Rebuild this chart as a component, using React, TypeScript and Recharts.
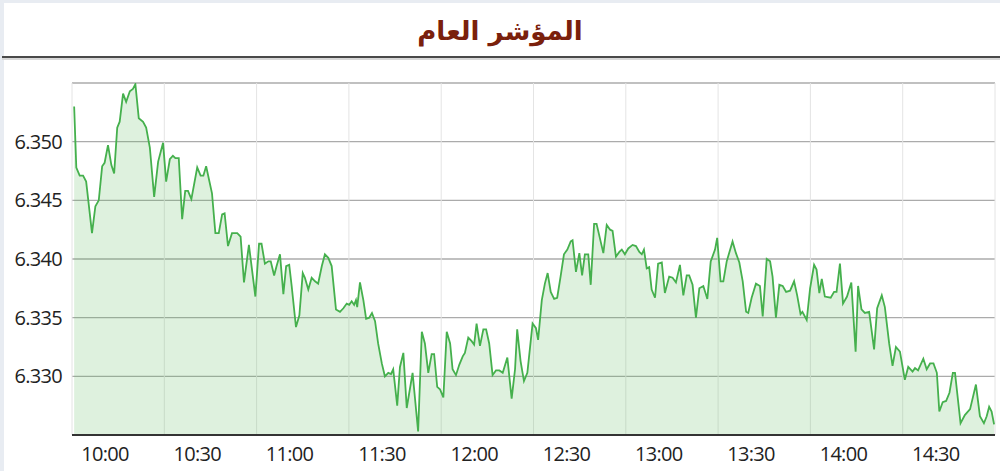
import React from 'react';
import { AreaChart, Area, XAxis, YAxis, CartesianGrid } from 'recharts';

// minutes after 10:00 (one reading per vertex of the intraday line)
const minutes = [
  0.7, 1.4, 2.5, 3.6, 4.6, 6.5, 7.6, 8.7, 9.8, 10.6, 11.7, 12.8, 13.7, 14.7, 15.5, 16.6, 17.6, 18.8, 19.8, 20.6,
  21.7, 23.1, 24.1, 25.3, 26.7, 28.0, 29.6, 30.6, 31.8, 32.8, 33.6, 34.7, 35.8, 36.8, 37.7, 38.8, 40.7, 41.8, 42.7, 43.6,
  45.5, 46.6, 47.7, 48.8, 49.6, 50.7, 52.0, 53.7, 54.8, 55.9, 57.5, 59.6, 60.8, 61.6, 62.7, 63.8, 64.6, 65.7, 66.5, 67.6,
  68.7, 69.6, 70.6, 71.4, 72.8, 73.9, 75.0, 75.7, 76.8, 77.9, 79.0, 80.0, 81.2, 82.2, 83.3, 84.4, 85.8, 87.1, 88.2, 89.3,
  90.1, 90.9, 91.7, 92.3, 92.7, 93.6, 94.7, 95.6, 96.6, 97.5, 98.5, 99.5, 100.7, 101.7, 102.8, 103.7, 104.4, 105.7, 106.6, 107.7,
  108.8, 110.7, 112.5, 113.7, 114.7, 115.8, 116.9, 117.7, 118.7, 119.6, 120.7, 121.8, 122.9, 123.7, 124.8, 125.9, 127.0, 127.7, 128.8, 129.9,
  130.7, 131.5, 132.6, 133.7, 134.6, 135.6, 136.7, 137.8, 138.9, 140.0, 141.5, 142.9, 144.0, 144.7, 145.8, 146.9, 148.0, 149.7, 150.8, 151.5,
  152.7, 153.7, 154.6, 155.6, 156.7, 157.7, 158.8, 159.9, 161.0, 162.1, 162.7, 163.8, 164.9, 165.8, 166.7, 167.8, 168.6, 169.7, 170.5, 172.7,
  173.8, 174.9, 175.7, 176.8, 177.9, 178.7, 179.7, 180.8, 182.2, 183.3, 184.4, 185.2, 185.9, 186.8, 187.6, 188.4, 189.5, 190.5, 191.7, 192.7,
  194.1, 195.2, 196.3, 197.6, 198.7, 199.8, 200.6, 201.7, 202.8, 203.9, 205.2, 206.5, 207.6, 209.0, 209.7, 210.8, 211.7, 212.8, 214.7, 215.8,
  216.9, 218.0, 219.1, 219.8, 220.9, 222.3, 223.6, 224.5, 225.8, 226.9, 227.7, 228.8, 229.9, 231.0, 232.1, 233.4, 234.7, 235.7, 236.8, 237.4,
  238.8, 239.9, 241.2, 242.0, 242.9, 243.7, 244.7, 246.6, 247.7, 248.5, 249.6, 250.6, 251.9, 253.3, 254.7, 255.5, 256.6, 257.7, 259.1, 260.7,
  261.7, 263.2, 264.2, 265.6, 266.7, 267.8, 269.1, 270.7, 271.8, 273.2, 274.0, 275.0, 276.7, 277.8, 278.9, 280.0, 281.1, 281.9, 283.0, 284.1,
  285.2, 286.3, 287.0, 288.8, 290.2, 291.9, 293.8, 295.1, 296.4, 297.3, 298.1, 298.9, 299.7,
];

const indexValues = [
  6.3530, 6.3478, 6.3471, 6.3471, 6.3466, 6.3422, 6.3445, 6.3450, 6.3479, 6.3482, 6.3497, 6.3480, 6.3473, 6.3512, 6.3517, 6.3541, 6.3534, 6.3543, 6.3545, 6.3549,
  6.3520, 6.3517, 6.3512, 6.3495, 6.3453, 6.3483, 6.3499, 6.3466, 6.3485, 6.3488, 6.3486, 6.3486, 6.3434, 6.3458, 6.3458, 6.3451, 6.3478, 6.3471, 6.3471, 6.3479,
  6.3456, 6.3422, 6.3422, 6.3438, 6.3439, 6.3411, 6.3422, 6.3422, 6.3419, 6.3380, 6.3412, 6.3368, 6.3413, 6.3413, 6.3396, 6.3398, 6.3398, 6.3386, 6.3394, 6.3404,
  6.3370, 6.3394, 6.3395, 6.3377, 6.3342, 6.3352, 6.3388, 6.3384, 6.3374, 6.3384, 6.3381, 6.3379, 6.3394, 6.3404, 6.3401, 6.3394, 6.3357, 6.3355, 6.3358, 6.3362,
  6.3361, 6.3364, 6.3361, 6.3365, 6.3359, 6.3380, 6.3365, 6.3349, 6.3350, 6.3354, 6.3347, 6.3328, 6.3311, 6.3300, 6.3303, 6.3302, 6.3306, 6.3275, 6.3308, 6.3320,
  6.3273, 6.3303, 6.3253, 6.3338, 6.3328, 6.3303, 6.3319, 6.3319, 6.3291, 6.3289, 6.3282, 6.3338, 6.3328, 6.3306, 6.3301, 6.3310, 6.3317, 6.3320, 6.3333, 6.3330,
  6.3327, 6.3345, 6.3326, 6.3340, 6.3340, 6.3328, 6.3301, 6.3305, 6.3305, 6.3303, 6.3316, 6.3281, 6.3306, 6.3340, 6.3313, 6.3296, 6.3303, 6.3345, 6.3341, 6.3331,
  6.3365, 6.3379, 6.3388, 6.3372, 6.3366, 6.3367, 6.3385, 6.3404, 6.3408, 6.3415, 6.3416, 6.3389, 6.3405, 6.3386, 6.3404, 6.3404, 6.3378, 6.3430, 6.3430, 6.3405,
  6.3429, 6.3425, 6.3424, 6.3402, 6.3406, 6.3408, 6.3404, 6.3409, 6.3412, 6.3411, 6.3406, 6.3404, 6.3408, 6.3392, 6.3393, 6.3374, 6.3367, 6.3396, 6.3397, 6.3371,
  6.3385, 6.3384, 6.3380, 6.3395, 6.3369, 6.3386, 6.3386, 6.3378, 6.3350, 6.3375, 6.3377, 6.3366, 6.3398, 6.3408, 6.3418, 6.3381, 6.3381, 6.3398, 6.3415, 6.3405,
  6.3397, 6.3381, 6.3355, 6.3354, 6.3367, 6.3379, 6.3377, 6.3351, 6.3400, 6.3398, 6.3385, 6.3350, 6.3378, 6.3377, 6.3372, 6.3373, 6.3381, 6.3369, 6.3353, 6.3355,
  6.3348, 6.3375, 6.3395, 6.3391, 6.3371, 6.3383, 6.3368, 6.3367, 6.3372, 6.3372, 6.3396, 6.3362, 6.3368, 6.3380, 6.3321, 6.3377, 6.3357, 6.3354, 6.3355, 6.3323,
  6.3358, 6.3369, 6.3359, 6.3328, 6.3309, 6.3325, 6.3321, 6.3297, 6.3308, 6.3304, 6.3307, 6.3305, 6.3315, 6.3306, 6.3311, 6.3311, 6.3303, 6.3270, 6.3278, 6.3279,
  6.3286, 6.3303, 6.3303, 6.3260, 6.3267, 6.3272, 6.3293, 6.3266, 6.3260, 6.3266, 6.3274, 6.3270, 6.3259,
];

const gridMinutes = [0, 30, 60, 90, 120, 150, 180, 210, 240, 270];
const timeLabels = ['10:00', '10:30', '11:00', '11:30', '12:00', '12:30', '13:00', '13:30', '14:00', '14:30'];
const yTicks = [6.33, 6.335, 6.34, 6.345, 6.35, 6.355];
const labelledYTicks = [6.33, 6.335, 6.34, 6.345, 6.35];

const data = minutes.map((t, i) => ({ t, v: indexValues[i] }));

const FONT = '"Open Sans", "DejaVu Sans", sans-serif';

// time labels sit a bit to the right of their half-hour gridline
const TimeTick = (props: any) => {
  const { x, y, payload } = props;
  const idx = gridMinutes.indexOf(payload.value);
  return (
    <text x={x + 33} y={y} dy={14} textAnchor="middle" fill="#222" fontSize={20} fontFamily={FONT} letterSpacing={-0.7}>
      {timeLabels[idx]}
    </text>
  );
};

const ValueTick = (props: any) => {
  const { x, y, payload } = props;
  if (!labelledYTicks.includes(payload.value)) return null;
  return (
    <text x={x} y={y} dy={7} textAnchor="end" fill="#222" fontSize={20} fontFamily={FONT} letterSpacing={-0.7}>
      {payload.value.toFixed(3)}
    </text>
  );
};

export default function App() {
  return (
    <div style={{ position: 'fixed', left: 0, top: 0, width: 1000, height: 471, background: '#e8ecf2', overflow: 'hidden' }}>
      <div style={{ position: 'absolute', left: 4, top: 3, right: 0, bottom: 0, background: '#fff' }} />
      <div
        style={{
          position: 'absolute', left: 0, top: 16, width: 1000, textAlign: 'center',
          fontFamily: '"DejaVu Sans", sans-serif', fontWeight: 'bold', fontSize: 26, color: '#7a200c', direction: 'rtl',
        }}
      >
        المؤشر العام
      </div>
      <div style={{ position: 'absolute', left: 2, top: 56, width: 998, height: 2, background: '#4a4a4a' }} />
      <div style={{ position: 'absolute', left: 2, top: 58, width: 998, height: 2, background: '#d8d8d8' }} />
      <div style={{ position: 'absolute', left: 0, top: 0 }}>
        <AreaChart width={1000} height={471} data={data} margin={{ top: 83, right: 5, bottom: 6, left: 0 }}>
          <CartesianGrid vertical={false} stroke="#ababab" strokeWidth={1.3} />
          <CartesianGrid horizontal={false} stroke="#e4e4e4" />
          <XAxis
            dataKey="t"
            type="number"
            domain={[0, 300]}
            ticks={gridMinutes}
            interval={0}
            height={30}
            tick={<TimeTick />}
            tickLine={false}
            axisLine={{ stroke: '#333', strokeWidth: 2 }}
            tickMargin={6}
          />
          <YAxis
            domain={[6.325, 6.355]}
            ticks={yTicks}
            interval={0}
            allowDataOverflow
            width={72}
            tick={<ValueTick />}
            tickLine={false}
            axisLine={false}
            tickMargin={4}
          />
          <Area
            type="linear"
            dataKey="v"
            stroke="#45b04d"
            strokeWidth={1.8}
            fill="#5cba5c"
            fillOpacity={0.2}
            dot={false}
            activeDot={false}
            isAnimationActive={false}
          />
        </AreaChart>
      </div>
    </div>
  );
}
